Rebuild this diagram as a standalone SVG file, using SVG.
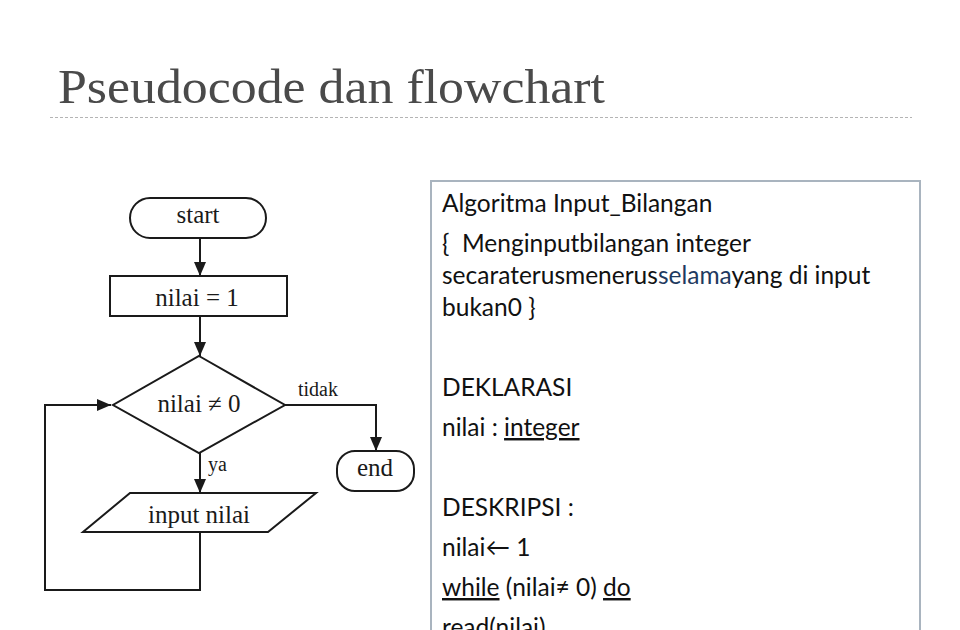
<svg xmlns="http://www.w3.org/2000/svg" width="960" height="630" viewBox="0 0 960 630">
<style>
.shape{fill:#fff;stroke:#1a1a1a;stroke-width:2}
.conn{fill:none;stroke:#1a1a1a;stroke-width:2}
.fc{font-family:"Liberation Serif","Times New Roman",serif;fill:#1a1a1a;font-size:25px}
.lbl{font-family:"Liberation Serif","Times New Roman",serif;fill:#1a1a1a;font-size:20px}
.code{font-family:Lato,"Open Sans","Liberation Sans",sans-serif;font-size:24.5px;fill:#111}
.u{text-decoration:underline}
</style>
<defs>
<marker id="ah" viewBox="0 0 14 12" refX="14" refY="6" markerWidth="14" markerHeight="12" markerUnits="userSpaceOnUse" orient="auto">
<path d="M0,0 L14,6 L0,12 Z" fill="#1a1a1a"/>
</marker>
</defs>
<rect width="960" height="630" fill="#fff"/>
<g id="title">
<text x="58" y="103" font-family="Liberation Serif,'Times New Roman',serif" font-size="48" fill="#4a4a4a" textLength="547" lengthAdjust="spacingAndGlyphs">Pseudocode dan flowchart</text>
<line x1="50" y1="117.5" x2="912" y2="117.5" stroke="#b4b4b4" stroke-width="1" stroke-dasharray="3 2"/>
</g>
<g id="connectors">
<path class="conn" d="M200,238 V276" marker-end="url(#ah)"/>
<path class="conn" d="M200,316 V356" marker-end="url(#ah)"/>
<path class="conn" d="M200,453 V493" marker-end="url(#ah)"/>
<path class="conn" d="M285,405 H376 V451" marker-end="url(#ah)"/>
<path class="conn" d="M200,532 V590 H45 V405 H111" marker-end="url(#ah)"/>
<text class="lbl" x="298" y="396">tidak</text>
<text class="lbl" x="208" y="471">ya</text>
</g>
<g id="start">
<rect class="shape" x="130" y="198" width="136" height="40" rx="20"/>
<text class="fc" x="198" y="223" text-anchor="middle">start</text>
</g>
<g id="init">
<rect class="shape" x="110" y="276" width="177" height="40"/>
<text class="fc" x="197" y="306" text-anchor="middle">nilai = 1</text>
</g>
<g id="decision">
<polygon class="shape" points="199,356 285,405 199,453 113,405"/>
<text class="fc" x="199" y="412" text-anchor="middle">nilai ≠ 0</text>
</g>
<g id="end">
<rect class="shape" x="337" y="451" width="77" height="40" rx="18"/>
<text class="fc" x="375" y="476" text-anchor="middle">end</text>
</g>
<g id="input">
<polygon class="shape" points="130,493 316,493 268,532 83,532"/>
<text class="fc" x="199" y="523" text-anchor="middle">input nilai</text>
</g>
<g id="pseudocode">
<rect x="431" y="181" width="489" height="470" fill="#fff" stroke="#a9b4bf" stroke-width="2"/>
<text class="code" x="442" y="212">Algoritma Input_Bilangan</text>
<text class="code" x="442" y="252">{&#160; Menginputbilangan integer</text>
<text class="code" x="442" y="284">secaraterusmenerus<tspan fill="#1f3a60">selama</tspan>yang di input</text>
<text class="code" x="442" y="316">bukan0 }</text>
<text class="code" x="442" y="396">DEKLARASI</text>
<text class="code" x="442" y="436">nilai : <tspan class="u">integer</tspan></text>
<text class="code" x="442" y="516">DESKRIPSI :</text>
<text class="code" x="442" y="556">nilai← 1</text>
<text class="code" x="442" y="596"><tspan class="u">while</tspan> (nilai≠ 0) <tspan class="u">do</tspan></text>
<text class="code" x="442" y="636">read(nilai)</text>
</g>
</svg>
